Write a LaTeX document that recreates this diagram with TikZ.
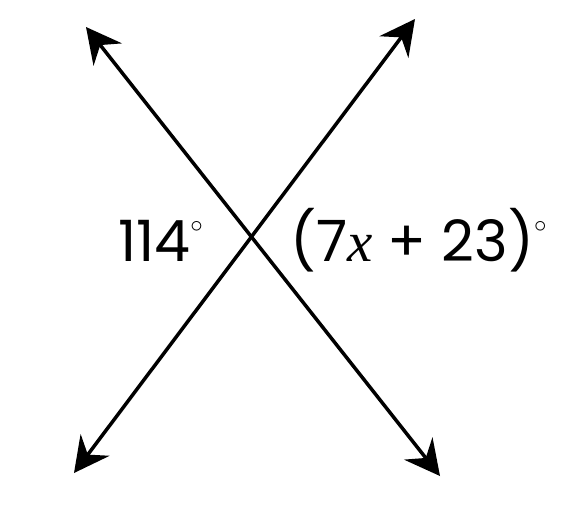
\documentclass[tikz,border=0pt]{standalone}
\usepackage{fontspec}
\setmainfont{Poppins}
\newfontfamily\varfont{Liberation Serif}
\usetikzlibrary{arrows.meta}
\usetikzlibrary{positioning}
\tikzset{bothways/.style = {line width=3.5pt,
                            {Stealth[length=35pt,width=36pt,inset=12pt]}-{Stealth[length=35pt,width=36pt,inset=12pt]}},
         angle label/.style = {inner sep=0pt, font=\fontsize{57pt}{57pt}\selectfont}}
\newcommand{\degsign}{\raisebox{29pt}{\fontsize{36pt}{36pt}\selectfont$\circ$}}

\begin{document}
\begin{tikzpicture}[x=1pt, y=-1pt]
    \useasboundingbox (0, 0) rectangle (577, 517);

    \coordinate (tl) at (86, 27);
    \coordinate (br) at (440, 476);
    \coordinate (tr) at (415, 19);
    \coordinate (bl) at (74, 473);

    \draw [bothways] (tl) -- (br);
    \draw [bothways] (bl) -- (tr);

    \node (given) [angle label, anchor=base east] at (203, 261) {114\degsign};
    \node (unknown) [angle label, anchor=base west] at (290, 261)
        {(7{\varfont\itshape x} + 23)\degsign};
\end{tikzpicture}
\end{document}
